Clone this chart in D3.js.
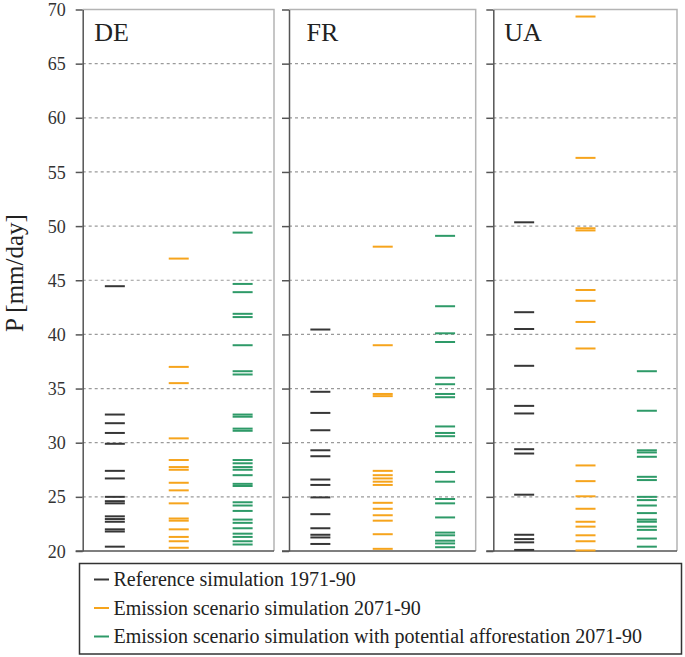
<!DOCTYPE html>
<html><head><meta charset="utf-8">
<script src="https://cdn.jsdelivr.net/npm/d3@7"></script>
<style>
body{margin:0;background:#fff;}
</style></head>
<body><svg id="c" width="685" height="657"></svg>
<script>
const panels = ["DE","FR","UA"];
const seriesNames = ["Reference simulation 1971-90","Emission scenario simulation 2071-90","Emission scenario simulation with potential afforestation 2071-90"];
const yTicks = [20,25,30,35,40,45,50,55,60,65,70];

const DE_ref  = [44.45,32.6,31.8,30.9,29.9,27.4,26.7,25.0,24.6,24.4,23.2,22.95,22.7,22.0,21.8,20.4];
const DE_emis = [47.0,37.0,35.5,30.4,28.4,27.75,27.5,26.3,25.6,24.4,23.0,22.8,22.0,21.3,20.9,20.3];
const DE_aff  = [49.4,44.66,43.9,41.9,41.6,39.0,36.6,36.3,32.6,32.4,31.3,31.1,28.4,28.1,27.75,27.5,27.0,26.2,26.0,24.5,24.2,23.7,22.9,22.6,22.1,21.6,21.3,20.9,20.6];

const FR_ref  = [40.45,34.7,32.75,31.15,29.3,28.75,26.6,26.1,24.95,23.4,22.1,21.5,21.25,20.65];
const FR_emis = [48.1,39.0,34.5,34.3,27.4,27.0,26.7,26.4,26.1,24.45,23.9,23.3,22.8,21.55,20.2];
const FR_aff  = [49.1,42.6,40.1,39.3,36.0,35.4,34.5,34.2,31.5,30.9,30.6,27.3,26.4,24.8,24.4,23.1,21.7,21.45,20.95,20.7,20.35];

const UA_ref  = [50.35,42.05,40.5,37.1,33.4,32.7,29.4,29.0,25.2,21.5,21.1,20.8,20.1];
const UA_emis = [69.35,56.3,49.8,49.6,44.1,43.1,41.15,38.7,27.9,26.45,25.05,23.9,22.7,22.25,21.45,20.9,20.05];
const UA_aff  = [36.6,32.95,29.3,29.1,28.7,26.85,26.55,25.0,24.7,24.2,23.5,22.9,22.7,22.25,21.95,21.15,20.4];

const panelData = {DE:[DE_ref,DE_emis,DE_aff], FR:[FR_ref,FR_emis,FR_aff], UA:[UA_ref,UA_emis,UA_aff]};

// layout
const FONT = "Liberation Serif";
const colors = ["#363636","#f6a41c","#2e9a68"];
const panelX = {DE:[82.7,274], FR:[289,475.7], UA:[493.3,677]};
const labelDX = {DE:11.5, FR:17.5, UA:11};
const plotTop = 9.5, plotBottom = 551;

const svg = d3.select("#c");
const y = d3.scaleLinear().domain([20,70]).range([plotBottom, plotTop]);

panels.forEach((p, pi) => {
  const [x0, x1] = panelX[p];
  const w = x1 - x0;
  const g = svg.append("g");
  g.selectAll("line.grid").data(yTicks.filter(t => t > 20 && t < 70)).join("line")
    .attr("x1", x0).attr("x2", x1)
    .attr("y1", d => y(d)).attr("y2", d => y(d))
    .attr("stroke", "#9a9a9a").attr("stroke-width", 1.2).attr("stroke-dasharray", "3,3");
  g.append("path").attr("d", `M${x0},${plotTop}H${x1}V${plotBottom}`)
    .attr("fill","none").attr("stroke","#b4b4b4").attr("stroke-width",1.5);
  const ax = d3.axisLeft(y).tickValues(yTicks).tickSize(7).tickSizeOuter(0)
    .tickFormat(pi === 0 ? d3.format("d") : () => "");
  const axg = g.append("g").attr("transform", `translate(${x0},0)`).call(ax)
    .attr("font-family", FONT).attr("font-size", 18);
  axg.select(".domain").attr("stroke","#555").attr("stroke-width",1.5);
  axg.selectAll(".tick line").attr("stroke","#555").attr("stroke-width",1.5);
  axg.selectAll(".tick text").attr("x",-17).attr("dy","0.34em")
    .attr("font-family", FONT).attr("font-size", 18).attr("fill","#333");
  g.append("line").attr("x1", x0-7).attr("x2", x1).attr("y1", plotBottom).attr("y2", plotBottom)
    .attr("stroke","#555").attr("stroke-width",1.5);
  g.append("text").attr("x", x0 + labelDX[p]).attr("y", 40.5)
    .attr("font-family", FONT).attr("font-size", 26).attr("fill","#222").text(p);
  const xs = d3.scalePoint().domain([0,1,2]).range([x0 + w*0.168, x0 + w*0.836]);
  panelData[p].forEach((vals, si) => {
    g.selectAll(null).data(vals).join("line")
      .attr("x1", xs(si) - 10).attr("x2", xs(si) + 10)
      .attr("y1", d => y(d)).attr("y2", d => y(d))
      .attr("stroke", colors[si]).attr("stroke-width", 2);
  });
});

svg.append("text").attr("transform","translate(22.5,273) rotate(-90)")
  .attr("text-anchor","middle").attr("font-family", FONT).attr("font-size", 25)
  .attr("fill","#222").text("P [mm/day]");

const lg = svg.append("g");
lg.append("rect").attr("x",79.5).attr("y",563.5).attr("width",602).attr("height",90.5)
  .attr("fill","#fff").attr("stroke","#333").attr("stroke-width",1.5);
const rowY = d3.scalePoint().domain([0,1,2]).range([586,643]);
seriesNames.forEach((name, i) => {
  lg.append("line").attr("x1",94).attr("x2",109).attr("y1",rowY(i)-6.5).attr("y2",rowY(i)-6.5)
    .attr("stroke",colors[i]).attr("stroke-width",2);
  lg.append("text").attr("x",113.5).attr("y",rowY(i))
    .attr("font-family", FONT).attr("font-size", 20).attr("fill","#222").text(name);
});
</script></body></html>
